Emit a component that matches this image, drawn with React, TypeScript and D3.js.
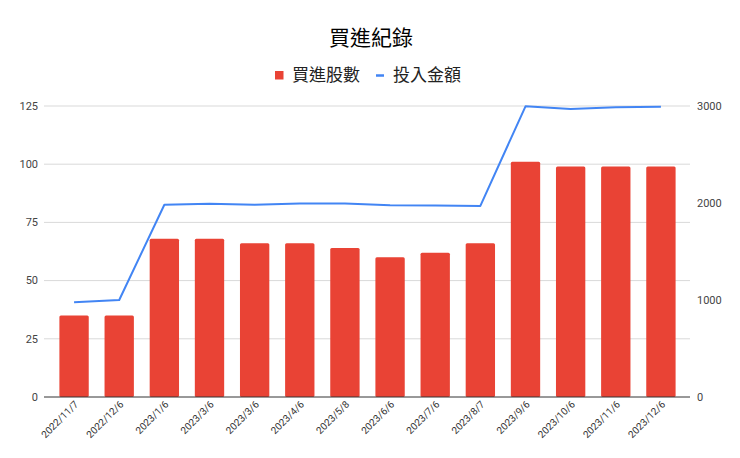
import React, { useEffect, useRef } from 'react';
import * as d3 from 'd3';

// 買進紀錄：每次買進的股數（柱）與投入金額（線）
const dates = [
  '2022/11/7', '2022/12/6', '2023/1/6', '2023/3/6', '2023/3/6', '2023/4/6', '2023/5/8',
  '2023/6/6', '2023/7/6', '2023/8/7', '2023/9/6', '2023/10/6', '2023/11/6', '2023/12/6',
];
const shares = [35, 35, 68, 68, 66, 66, 64, 60, 62, 66, 101, 99, 99, 99];
const amounts = [978, 1000, 1982, 1993, 1982, 1996, 1996, 1977, 1973, 1970, 2997, 2970, 2988, 2993];
const leftTicks = [0, 25, 50, 75, 100, 125];
const rightTicks = [0, 1000, 2000, 3000];

const W = 740, H = 458;
const FONT = 'Roboto, Arial, "Noto Sans CJK TC", sans-serif';
const CJK = '"Noto Sans CJK TC", "Noto Sans", sans-serif';

const App: React.FC = () => {
  const svgRef = useRef<SVGSVGElement>(null);

  useEffect(() => {
    if (!svgRef.current) return;
    const svg = d3.select(svgRef.current);
    svg.selectAll('*').remove();

    const plotL = 44, plotR = 690, top = 106, bottom = 397;

    const x = d3.scaleBand<number>()
      .domain(d3.range(dates.length))
      .range([51.5, 683.5])
      .paddingInner(0.35)
      .paddingOuter(0.175);
    const yL = d3.scaleLinear().domain([0, 125]).range([bottom, top]);
    const yR = d3.scaleLinear().domain([0, 3000]).range([bottom, top]);

    svg.append('rect').attr('width', W).attr('height', H).attr('fill', '#fff');

    // 格線
    svg.append('g').selectAll('line').data(leftTicks.filter(t => t > 0)).enter()
      .append('line')
      .attr('x1', plotL).attr('x2', plotR)
      .attr('y1', d => yL(d)).attr('y2', d => yL(d))
      .attr('stroke', '#d9d9d9').attr('stroke-width', 1);

    // 左軸標籤
    svg.append('g').selectAll('text').data(leftTicks).enter()
      .append('text')
      .attr('x', 38).attr('y', d => yL(d)).attr('dy', '0.35em')
      .attr('text-anchor', 'end')
      .style('font-family', FONT).style('font-size', '11px').attr('fill', '#444')
      .text(d => d);

    // 右軸標籤
    svg.append('g').selectAll('text').data(rightTicks).enter()
      .append('text')
      .attr('x', 697).attr('y', d => yR(d)).attr('dy', '0.35em')
      .attr('text-anchor', 'start')
      .style('font-family', FONT).style('font-size', '11px').attr('fill', '#444')
      .text(d => d);

    // 柱
    svg.append('g').selectAll('rect').data(shares).enter()
      .append('rect')
      .attr('x', (_, i) => x(i)!)
      .attr('width', x.bandwidth())
      .attr('y', d => yL(d))
      .attr('height', d => bottom - yL(d))
      .attr('rx', 1.5)
      .attr('fill', '#e94335');

    // 基線
    svg.append('line')
      .attr('x1', plotL).attr('x2', plotR)
      .attr('y1', bottom).attr('y2', bottom)
      .attr('stroke', '#333').attr('stroke-width', 1);

    // 線
    const line = d3.line<number>()
      .x((_, i) => x(i)! + x.bandwidth() / 2)
      .y(d => yR(d));
    svg.append('path')
      .datum(amounts)
      .attr('d', line)
      .attr('fill', 'none')
      .attr('stroke', '#4285f4')
      .attr('stroke-width', 2)
      .attr('stroke-linejoin', 'round');

    // X 軸標籤（斜 45 度）
    svg.append('g').selectAll('text').data(dates).enter()
      .append('text')
      .attr('transform', (_, i) => `translate(${x(i)! + x.bandwidth() / 2 + 5},${405}) rotate(-45)`)
      .attr('text-anchor', 'end')
      .style('font-family', FONT).style('font-size', '10px').attr('fill', '#333')
      .text(d => d);

    // 標題
    svg.append('text')
      .attr('x', 371).attr('y', 45)
      .attr('text-anchor', 'middle')
      .style('font-family', CJK).style('font-size', '21px').style('font-weight', 400)
      .attr('fill', '#000')
      .text('買進紀錄');

    // 圖例
    const lg = svg.append('g').style('font-family', CJK).style('font-size', '17px');
    lg.append('rect').attr('x', 275).attr('y', 71).attr('width', 8.5).attr('height', 8.5).attr('fill', '#e94335');
    lg.append('text').attr('x', 292).attr('y', 81).attr('fill', '#222').text('買進股數');
    lg.append('line').attr('x1', 376).attr('x2', 384).attr('y1', 75.5).attr('y2', 75.5)
      .attr('stroke', '#4285f4').attr('stroke-width', 2.5);
    lg.append('text').attr('x', 393).attr('y', 81).attr('fill', '#222').text('投入金額');
  }, []);

  return (
    <svg
      ref={svgRef}
      width={W}
      height={H}
      style={{ position: 'absolute', left: 0, top: 0 }}
    />
  );
};

export default App;
